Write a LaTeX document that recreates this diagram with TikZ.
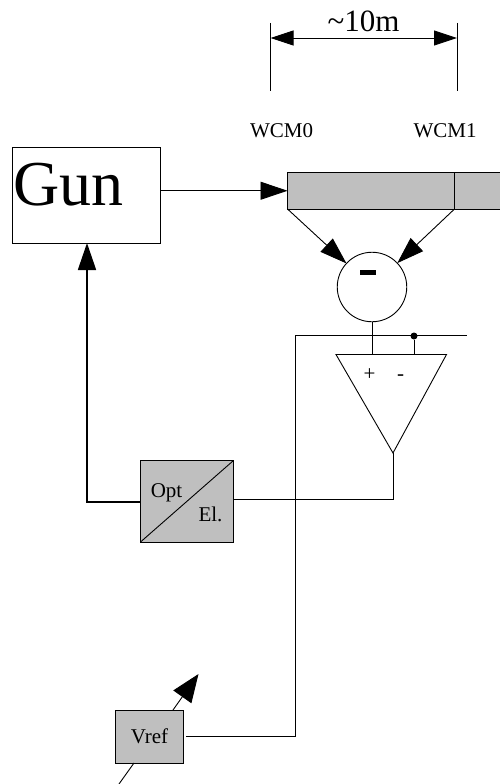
\documentclass[tikz,border=0pt]{standalone}
\usepackage{fontspec}
\setmainfont{Liberation Serif}
\usetikzlibrary{arrows.meta}
\tikzset{
  x=1pt,y=-1pt,
  wire/.style={line width=0.9pt,draw=black},
  thickwire/.style={line width=1.8pt,draw=black},
  bigarrow/.style={-{Triangle[length=27pt,width=18pt,fill=black]}},
  vrefarrow/.style={-{Triangle[length=28pt,width=22pt,fill=black]}},
  dimarrow/.style={{Triangle[length=23pt,width=15pt,fill=black]}-{Triangle[length=23pt,width=15pt,fill=black]}},
  outlined/.style={draw=black,line width=0.9pt,inner sep=0pt,outer sep=0pt,anchor=north west},
  greybox/.style={outlined,fill=black!25},
  label/.style={inner sep=0pt,outer sep=0pt,anchor=base,font=\fontsize{21}{21}\selectfont},
}
\begin{document}
\begin{tikzpicture}
\path[use as bounding box,clip] (0,0) rectangle (500,784);

% dimension
\coordinate (d0t) at (270.5,23); \coordinate (d0b) at (270.5,91);
\coordinate (d1t) at (457,23);   \coordinate (d1b) at (457,91);
\coordinate (d0m) at (270.5,38); \coordinate (d1m) at (457,38);
\draw[wire] (d0t) -- (d0b);
\draw[wire] (d1t) -- (d1b);
\draw[wire,dimarrow] (d0m) -- (d1m);
\node[label,font=\fontsize{31}{31}\selectfont] (dist) at (363.5,32) {\char`\~10m};
\node[label] (w0) at (281.5,137) {WCM0};
\node[label] (w1) at (445,137) {WCM1};

% gun
\node[outlined,minimum width=148pt,minimum height=96pt] (gun) at (12,147) {};
\node[inner sep=0pt,anchor=base west,font=\fontsize{64}{64}\selectfont] (guntext) at (13,205) {Gun};

% bar
\node[greybox,minimum width=167pt,minimum height=36.5pt] (bar0) at (287.5,172.5) {};
\node[greybox,minimum width=60pt,minimum height=36.5pt] (bar1) at (454.5,172.5) {};

% subtractor
\node[draw=black,line width=0.9pt,circle,minimum size=69.5pt,inner sep=0pt,outer sep=0pt] (sub) at (372,287) {};
\node[fill=black,inner sep=0pt,minimum width=16pt,minimum height=5pt] (minus) at (368,272.5) {};

\coordinate (barin) at (bar0.west);
\draw[wire,bigarrow] (gun.east |- barin) -- (barin);
\draw[wire,bigarrow] (bar0.south west) -- (sub);
\draw[wire,bigarrow] (bar0.south east) -- (sub);

% amplifier
\coordinate (ampl) at (336,354.5);
\coordinate (ampr) at (446.5,354.5);
\coordinate (ampt) at (393,453);
\coordinate (ampp) at (372,354.5);
\coordinate (ampn) at (414,354.5);
\draw[wire,line join=miter] (ampl) -- (ampr) -- (ampt) -- cycle;
\node[label] (plus) at (369.5,380) {+};
\node[label] (neg) at (400.5,380) {-};
\draw[wire] (sub.south) -- (ampp);

% reference line
\coordinate (linee) at (467,335);
\coordinate (linec) at (295,335);
\node[circle,fill=black,inner sep=0pt,minimum size=7pt] (dot) at (414,336) {};
\draw[wire] (dot) -- (ampn);

% opt/el converter
\node[greybox,minimum width=93pt,minimum height=81.5pt] (conv) at (140.5,460.5) {};
\draw[wire] (conv.south west) -- (conv.north east);
\node[label] (opt) at (166.5,497) {Opt};
\node[label] (el) at (210.5,521) {El.};
\coordinate (convin) at (233.5,499);
\draw[wire] (ampt) -- (ampt |- convin) -- (convin);
\coordinate (conve) at (87,502);
\draw[thickwire,bigarrow] (conv.west |- conve) -- (conve) -- (gun.south -| conve);

% vref
\node[greybox,minimum width=67.5pt,minimum height=53pt] (vref) at (115.5,710) {};
\node[label] (vreft) at (149.5,743) {Vref};
\coordinate (vrefo) at (186,736);
\draw[wire] (vrefo) -- (linec |- vrefo) -- (linec) -- (linee);
\coordinate (tune0) at (119,784);
\coordinate (tune1) at (134,763);
\coordinate (tune2) at (173,710);
\coordinate (tune3) at (198.5,674);
\draw[wire] (tune0) -- (tune1);
\draw[wire,vrefarrow] (tune2) -- (tune3);
\end{tikzpicture}
\end{document}
